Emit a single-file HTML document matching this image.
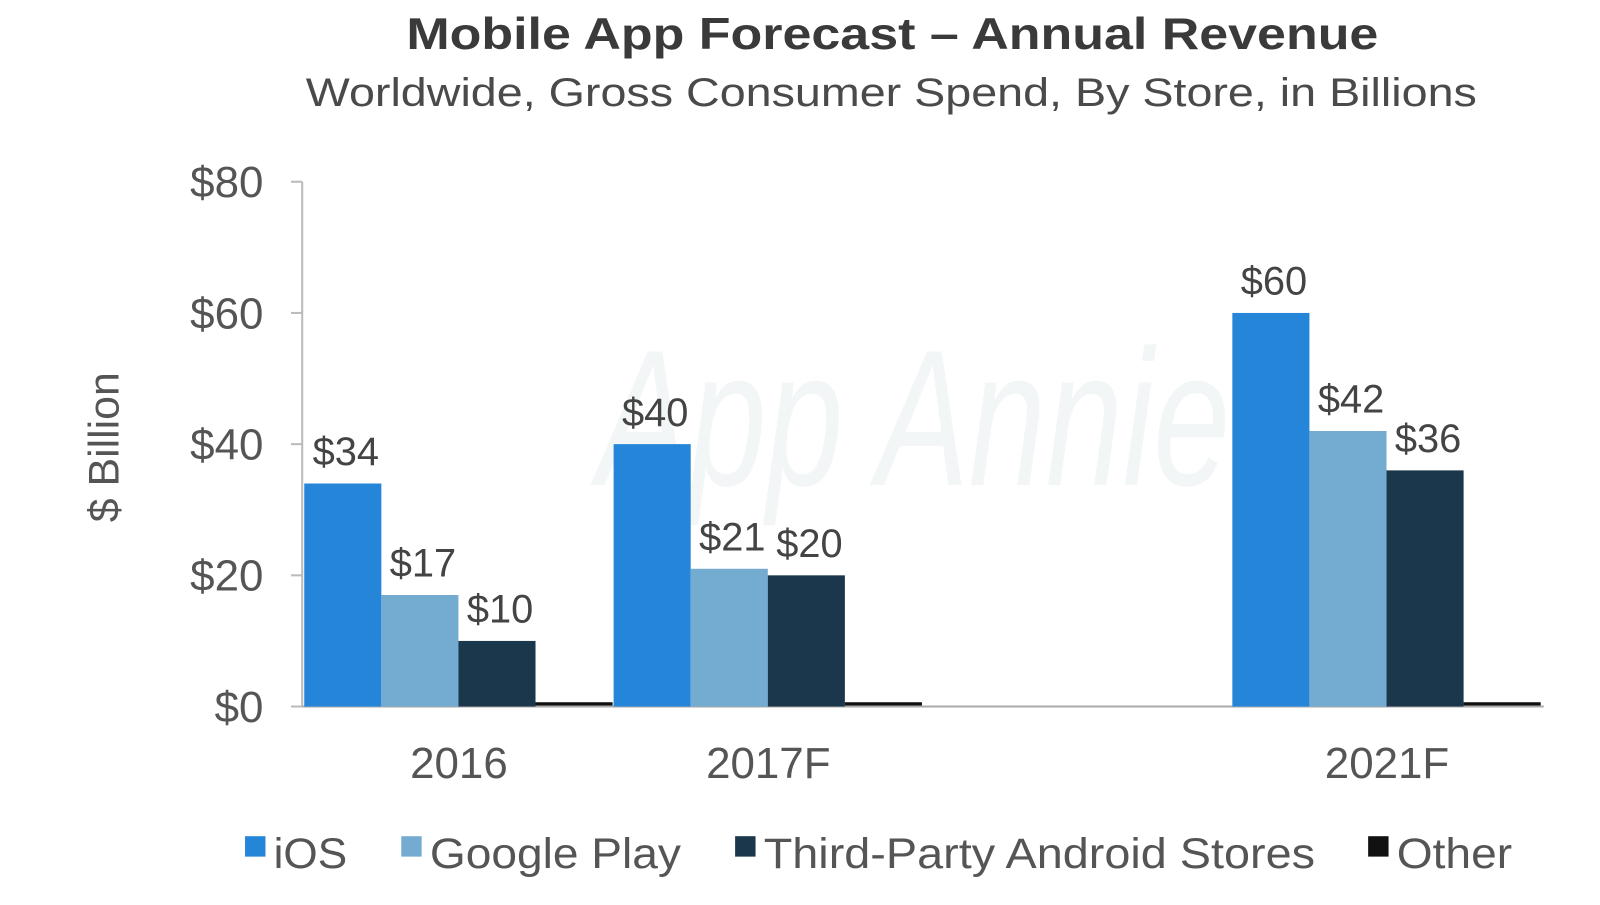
<!DOCTYPE html>
<html><head><meta charset="utf-8">
<style>
html,body{margin:0;padding:0;background:#fff;}
body{width:1600px;height:900px;overflow:hidden;font-family:"Liberation Sans",sans-serif;}
svg text{font-family:"Liberation Sans",sans-serif;}
</style></head>
<body>
<svg id="chart" width="1600" height="900" viewBox="0 0 1600 900">
 <g transform="scale(1.021)">
  <text x="874" y="48" text-anchor="middle" font-size="44" font-weight="bold" fill="#3a3a3a" textLength="952" lengthAdjust="spacingAndGlyphs">Mobile App Forecast – Annual Revenue</text>
  <text x="873" y="104" text-anchor="middle" font-size="39" fill="#4a4a4a" textLength="1147" lengthAdjust="spacingAndGlyphs">Worldwide, Gross Consumer Spend, By Store, in Billions</text>
  <text x="895" y="475" text-anchor="middle" font-size="190" font-style="italic" fill="#f3f6f6" textLength="620" lengthAdjust="spacingAndGlyphs">App Annie</text>
  <text transform="translate(116,438) rotate(-90)" text-anchor="middle" font-size="42" fill="#555">$ Billion</text>
  <g id="axes"></g>
  <g id="bars"></g>
  <g id="legend"></g>
 </g>
</svg>
<script>
const categories = ["2016", "2017F", "", "2021F"];
const seriesNames = ["iOS", "Google Play", "Third-Party Android Stores", "Other"];
const iosValues = [34, 40, null, 60];
const googlePlayValues = [17, 21, null, 42];
const thirdPartyValues = [10, 20, null, 36];
const otherValues = [0.5, 0.5, null, 0.5];
const valueLabels = [["$34","$40","","$60"],["$17","$21","","$42"],["$10","$20","","$36"],["","","",""]];
const yTicks = [0, 20, 40, 60, 80];
const yTickLabels = ["$0", "$20", "$40", "$60", "$80"];

const colors = ["#2585d9", "#74abd0", "#1b374b", "#111111"];
const NS = "http://www.w3.org/2000/svg";
const x0 = 298, slotW = 303, barW = 75.5, yBase = 692, yTop = 178, yMax = 80;
function yScale(v){ return yBase - (v / yMax) * (yBase - yTop); }
function xSlot(i){ return x0 + i * slotW; }
function mk(tag, attrs, parent){ const e = document.createElementNS(NS, tag); for (const k in attrs) e.setAttribute(k, attrs[k]); parent.appendChild(e); return e; }

const axes = document.getElementById("axes");
const yAxis = mk("line", {x1:296, y1:yTop, x2:296, y2:yBase, stroke:"#bbb", "stroke-width":2}, axes);


const xAxis = mk("line", {x1:285, y1:yBase, x2:1512, y2:yBase, stroke:"#aaa", "stroke-width":2}, axes);


yTicks.forEach((t, i) => {
  const tk = mk("line", {x1:285, y1:yScale(t), x2:296, y2:yScale(t), stroke:"#bbb", "stroke-width":2}, axes);
  
  
  const lb = mk("text", {x:258, y:yScale(t) + 15, "text-anchor":"end", "font-size":43, fill:"#555"}, axes);
  lb.textContent = yTickLabels[i];
  
  
});
categories.forEach((c, i) => {
  if (!c) return;
  const lb = mk("text", {x:xSlot(i) + slotW / 2, y:762, "text-anchor":"middle", "font-size":43, fill:"#555"}, axes);
  lb.textContent = c;
  
  
});

const bars = document.getElementById("bars");
const series = [iosValues, googlePlayValues, thirdPartyValues, otherValues];
series.forEach((vals, s) => {
  vals.forEach((v, i) => {
    if (v === null) return;
    const x = xSlot(i) + s * barW;
    const y = yScale(v);
    const r = mk("rect", {x:x, y:y - (s === 3 ? 1 : 0), width:barW, height:Math.max(3, yBase - y), fill:colors[s]}, bars);
    
    
    const lbl = valueLabels[s][i];
    if (lbl) {
      const t = mk("text", {x:x + barW / 2 + 3, y:y - 18, "text-anchor":"middle", "font-size":39, fill:"#444"}, bars);
      t.textContent = lbl;
      
      
    }
  });
});

const legend = document.getElementById("legend");
const legX = [240, 393, 720, 1340];
const legTextW = [72, 246, 540, 113];
seriesNames.forEach((n, s) => {
  const g = mk("g", {}, legend);
  
  
  mk("rect", {x:legX[s], y:819, width:20, height:20, fill:colors[s]}, g);
  const t = mk("text", {x:legX[s] + 28, y:850, "font-size":42, fill:"#555", textLength:legTextW[s], lengthAdjust:"spacingAndGlyphs"}, g);
  t.textContent = n;
});
</script>
</body></html>
